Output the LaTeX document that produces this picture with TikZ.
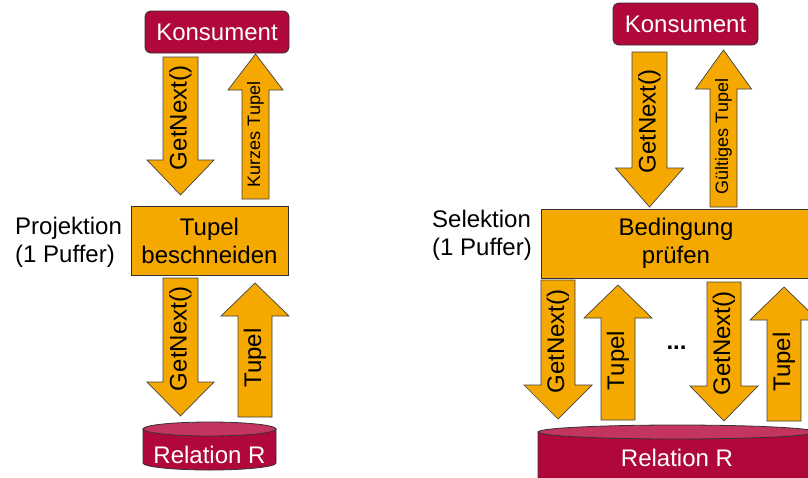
\documentclass[tikz,border=0pt]{standalone}
\usepackage{fontspec}
\setmainfont{Liberation Sans}
\usetikzlibrary{positioning}

\definecolor{consred}{RGB}{176,8,58}
\definecolor{cyltop}{RGB}{195,52,95}
\definecolor{oporange}{RGB}{245,168,0}

\tikzset{
    bigfont/.style={font=\fontsize{24}{28}\selectfont},
    smallfont/.style={font=\fontsize{18}{21}\selectfont},
    consbox/.style={draw=black!80, fill=consred, rounded corners=6pt, text=white, line width=0.8pt, bigfont},
    opbox/.style={draw=black!80, fill=oporange, align=center, line width=0.8pt, bigfont},
    arrowbody/.style={draw=black!75, fill=oporange, line width=0.7pt},
    arrowlabel/.style={rotate=90, inner sep=0pt, bigfont},
    sidelabel/.style={anchor=west, align=left, inner sep=0pt, bigfont},
    cylbody/.style={draw=black!80, fill=consred, line width=0.8pt},
    cylend/.style={draw=black!80, fill=cyltop, line width=0.8pt},
    cyltext/.style={text=white, inner sep=0pt, bigfont},
}

% block arrow: [label opts]{name}{x}{tail y}{tip y}{half shaft}{half head}{head length}{label}
\newcommand{\blockarrow}[9][]{%
    \pgfmathsetmacro\arrdir{sign(#5-#4)}%
    \pgfmathsetmacro\arrbase{#5-\arrdir*#8}%
    \pgfmathsetmacro\arrlbl{(#4+#5)/2-8*\arrdir}%
    \draw[arrowbody] ({#3-#6},#4) -- ({#3-#6},\arrbase) -- ({#3-#7},\arrbase) -- (#3,#5)
        -- ({#3+#7},\arrbase) -- ({#3+#6},\arrbase) -- ({#3+#6},#4) -- cycle;
    \node[arrowlabel, #1] (#2) at (#3,\arrlbl) {#9};
}

\begin{document}
\begin{tikzpicture}[x=1pt, y=-1pt]
    \useasboundingbox (0,0) rectangle (808,477);
    \clip (0,0) rectangle (808,477);

    % Projektion
    \node[consbox, minimum width=144pt, minimum height=42pt] (kons1) at (217,32) {Konsument};
    \node[opbox, minimum width=157pt, minimum height=69pt] (proj) at (209.5,240.5) {Tupel\\beschneiden};
    \node[sidelabel] (projlbl) at (15,242) {Projektion\\(1 Puffer)};

    \blockarrow{get1}{180.5}{57}{195}{17.5}{33.5}{35}{GetNext()}
    \blockarrow[smallfont]{kurz}{255.5}{199}{54}{13.5}{27.5}{36}{Kurzes Tupel}
    \blockarrow{get2}{180.5}{278}{416}{17.5}{33.5}{34}{GetNext()}
    \blockarrow{tup1}{255}{417}{283}{17}{34}{33}{Tupel}

    \draw[cylbody] (143,429) -- (143,463) arc[start angle=180, end angle=360, x radius=66.5pt, y radius=7pt] -- (276,429) -- cycle;
    \draw[cylend] (209.5,429) ellipse[x radius=66.5pt, y radius=7pt];
    \node[cyltext] (rel1) at (209.5,455) {Relation R};

    % Selektion
    \node[consbox, minimum width=145pt, minimum height=42pt] (kons2) at (685.5,24) {Konsument};
    \node[opbox, minimum width=270pt, minimum height=69pt] (sel) at (676,243.5) {Bedingung\\prüfen};
    \node[sidelabel] (sellbl) at (432,235) {Selektion\\(1 Puffer)};

    \blockarrow{get3}{649.5}{52}{207}{17.5}{34}{39}{GetNext()}
    \blockarrow[smallfont]{gueltig}{723.5}{207}{50}{13.5}{28}{39}{Gültiges Tupel}
    \blockarrow{get4}{558}{280}{419}{17}{34}{34}{GetNext()}
    \blockarrow{tup2}{618}{420}{285}{17}{34}{33}{Tupel}
    \blockarrow{get5}{724}{282}{421}{17}{34}{35}{GetNext()}
    \blockarrow{tup3}{784}{421}{287}{17}{34}{33}{Tupel}
    \node[bigfont] (dots) at (676.5,348) {\textbf{...}};

    \draw[cylbody] (538,432) -- (538,490) arc[start angle=180, end angle=360, x radius=139pt, y radius=7pt] -- (816,432) -- cycle;
    \draw[cylend] (677,432) ellipse[x radius=139pt, y radius=7pt];
    \node[cyltext] (rel2) at (677,458) {Relation R};
\end{tikzpicture}
\end{document}
